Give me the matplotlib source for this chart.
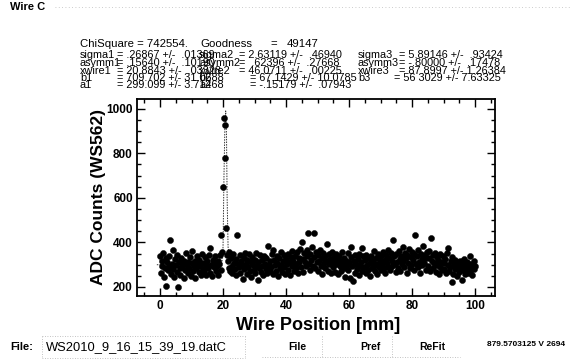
import numpy as np
import matplotlib
matplotlib.use("Agg")
import matplotlib.pyplot as plt
from matplotlib.ticker import MultipleLocator
from matplotlib.lines import Line2D

plt.rcParams['font.family'] = ['Liberation Sans', 'DejaVu Sans']

# ---------------- data ----------------
x_start = 0.0
x_step = 0.25
adc_counts = [
    340, 262, 318, 295, 351, 247, 286, 330, 206, 312, 275, 340, 295, 411, 258, 302, 366, 281, 244, 327,
    298, 268, 345, 200, 312, 284, 256, 331, 290, 305, 242, 318, 276, 352, 298, 265, 310, 287, 334, 249,
    306, 361, 272, 295, 318, 240, 287, 340, 301, 266, 323, 292, 255, 347, 280, 309, 271, 336, 298, 252,
    315, 284, 342, 263, 376, 297, 250, 322, 288, 307, 338, 272, 294, 318, 256, 301, 344, 278, 433, 358,
    650, 957, 927, 780, 463, 345, 318, 284, 356, 270, 331, 296, 262, 348, 309, 279, 325, 254, 432, 301,
    288, 342, 265, 316, 297, 236, 329, 281, 354, 303, 258, 320, 290, 347, 271, 312, 246, 336, 299, 278,
    323, 261, 351, 293, 232, 310, 285, 342, 268, 319, 296, 252, 337, 305, 279, 328, 263, 385, 300, 274,
    315, 289, 346, 366, 258, 322, 297, 271, 339, 306, 248, 331, 284, 357, 299, 266, 318, 291, 344, 260,
    327, 302, 276, 349, 311, 253, 336, 292, 363, 318, 270, 341, 305, 284, 356, 262, 329, 310, 372, 289,
    403, 325, 268, 351, 314, 292, 367, 338, 442, 301, 277, 346, 320, 380, 296, 441, 334, 285, 358, 312,
    271, 343, 318, 364, 295, 330, 259, 352, 308, 286, 339, 316, 395, 274, 347, 301, 326, 262, 355, 311,
    289, 336, 267, 348, 303, 322, 257, 341, 295, 316, 272, 359, 306, 284, 331, 246, 318, 298, 353, 277,
    312, 239, 335, 381, 292, 227, 318, 264, 344, 301, 281, 326, 255, 349, 296, 311, 374, 270, 337, 289,
    322, 263, 345, 298, 276, 331, 308, 251, 340, 286, 317, 362, 294, 270, 328, 305, 258, 346, 290, 319,
    275, 338, 301, 356, 284, 320, 262, 343, 309, 291, 367, 330, 278, 352, 315, 296, 411, 337, 304, 268,
    348, 312, 286, 361, 327, 273, 340, 302, 379, 318, 290, 354, 331, 265, 345, 308, 372, 283, 336, 297,
    359, 322, 278, 346, 433, 305, 337, 289, 368, 314, 263, 350, 326, 298, 384, 309, 342, 275, 331, 356,
    294, 328, 362, 271, 421, 317, 343, 285, 309, 352, 266, 334, 300, 321, 258, 346, 289, 313, 275, 338,
    306, 282, 325, 262, 351, 297, 376, 270, 288, 316, 224, 335, 259, 302, 279, 321, 294, 248, 310, 284,
    269, 318, 291, 231, 305, 276, 327, 258, 299, 283, 312, 265, 296, 338, 274, 304, 252, 289, 317, 280,
    296,
]
wire_pos = [x_start + i * x_step for i in range(len(adc_counts))]

fit_x = [-1, 10, 19.6, 20.0, 20.3, 20.6, 20.85, 21.1, 21.3, 21.6, 22.2, 30, 40, 43, 46, 49, 52, 60, 70, 80, 84, 88, 92, 96, 101]
fit_y = [300, 298, 300, 380, 700, 930, 990, 880, 600, 380, 305, 295, 292, 305, 355, 306, 291, 289, 288, 291, 318, 340, 320, 292, 285]

x_ticks = [0, 20, 40, 60, 80, 100]
y_ticks = [200, 400, 600, 800, 1000]

chi_line = ["ChiSquare = 742554.", "Goodness", "=", "49147"]
col1_labels = ["sigma1", "asymm1", "xwire1", "b1", "a1"]
col1_vals = ["= .26867 +/-  .01369", "= .15640 +/-  .10190", "= 20.8843 +/-  .03328",
             "= 709.702 +/- 31.0688", "= 299.099 +/- 3.71468"]
col2_labels = ["sigma2", "asymm2", "xwire2", "b2", "a2"]
col2_vals = ["= 2.63119 +/-  .46940", "=  .62396 +/-  .27668", "= 46.0711 +/-  .00225",
             "= 67.1429 +/- 10.0785", "= -.15179 +/-  .07943"]
col3_labels = ["sigma3", "asymm3", "xwire3", "b3"]
col3_vals = ["= 5.89146 +/-  .93424", "= -.80000 +/-  .17478", "= 87.8997 +/- 1.26384",
             "= 56 3029 +/- 7.63325"]

# ---------------- figure ----------------
W, H = 571, 360
fig = plt.figure(figsize=(W / 100, H / 100), dpi=100)
fig.patch.set_facecolor('white')

def fx(px):
    return px / W

def fy(py):
    return 1 - py / H

ax = fig.add_axes([fx(137), fy(296), fx(495) - fx(137), fy(99) - fy(296)])
ax.set_xlim(-7.3, 106.3)
ax.set_ylim(159.6, 1043.5)

ax.plot(fit_x, fit_y, color='#333333', lw=0.7, ls=(0, (1.5, 1.2)), zorder=2)
ax.plot(wire_pos, adc_counts, ls='none', marker='o', ms=4.4, mfc='black', mec='black',
        mew=0.3, zorder=3)

ax.xaxis.set_minor_locator(MultipleLocator(5))
ax.yaxis.set_minor_locator(MultipleLocator(50))
ax.set_xticks(x_ticks)
ax.set_yticks(y_ticks)
ax.tick_params(which='both', direction='in', top=True, right=True, width=1.0, color='black')
ax.tick_params(which='major', length=6, pad=3, labelsize=8.5)
ax.tick_params(which='minor', length=3)
for lab in ax.get_xticklabels() + ax.get_yticklabels():
    lab.set_fontweight('bold')
for sp in ax.spines.values():
    sp.set_linewidth(1.3)

fig.text(fx(99), fy(197), "ADC Counts (WS562)", rotation=90, fontsize=12.5,
         fontweight='bold', ha='center', va='center')
fig.text(fx(318), fy(325), "Wire Position [mm]", fontsize=13, fontweight='bold',
         ha='center', va='center')

# header
fig.text(fx(10), fy(7), "Wire C", fontsize=8, fontweight='bold', ha='left', va='center')
fig.add_artist(Line2D([fx(55), fx(571)], [fy(7), fy(7)], color='#bbbbbb', lw=0.6,
                      ls=(0, (1, 3))))

# fit parameter block
fs = 7.8
fig.text(fx(80), fy(44), chi_line[0], fontsize=8.2, ha='left', va='center')
fig.text(fx(200), fy(44), chi_line[1], fontsize=8.2, ha='left', va='center')
fig.text(fx(270), fy(44), chi_line[2], fontsize=8.2, ha='left', va='center')
fig.text(fx(287), fy(44), chi_line[3], fontsize=8.2, ha='left', va='center')

line_y = [55, 63, 70.5, 78, 85]
for i, (lab, val) in enumerate(zip(col1_labels, col1_vals)):
    fig.text(fx(80), fy(line_y[i]), lab, fontsize=fs, ha='left', va='center')
    fig.text(fx(117), fy(line_y[i]), val, fontsize=fs, ha='left', va='center')
for i, (lab, val) in enumerate(zip(col2_labels, col2_vals)):
    eqx = 239 if i < 3 else 250
    fig.text(fx(199), fy(line_y[i]), lab, fontsize=fs, ha='left', va='center')
    fig.text(fx(eqx), fy(line_y[i]), val, fontsize=fs, ha='left', va='center')
for i, (lab, val) in enumerate(zip(col3_labels, col3_vals)):
    eqx = 399 if i < 3 else 394
    fig.text(fx(358), fy(line_y[i]), lab, fontsize=fs, ha='left', va='center')
    fig.text(fx(eqx), fy(line_y[i]), val, fontsize=fs, ha='left', va='center')

# bottom bar
fig.text(fx(10), fy(347), "File:", fontsize=8, fontweight='bold', ha='left', va='center')
fig.text(fx(46), fy(347), "WS2010_9_16_15_39_19.datC", fontsize=9.3, ha='left', va='center')
fig.text(fx(297), fy(347), "File", fontsize=7.5, fontweight='bold', ha='center', va='center')
fig.text(fx(370), fy(347), "Pref", fontsize=7.5, fontweight='bold', ha='center', va='center')
fig.text(fx(432), fy(347), "ReFit", fontsize=7.5, fontweight='bold', ha='center', va='center')
fig.text(fx(487), fy(344), "879.5703125 V 2694", fontsize=6.0, fontweight='bold',
         ha='left', va='center')

dot = dict(color='#b0b0b0', lw=0.6, ls=(0, (1, 2)))
for (x0, y0, x1, y1) in [(42, 336, 245, 336), (42, 358, 245, 358), (42, 336, 42, 358),
                         (245, 336, 245, 358), (262, 357, 460, 357), (322, 336, 322, 357),
                         (392, 336, 392, 357)]:
    fig.add_artist(Line2D([fx(x0), fx(x1)], [fy(y0), fy(y1)], **dot))

fig.savefig("out.png", dpi=100, facecolor='white')
